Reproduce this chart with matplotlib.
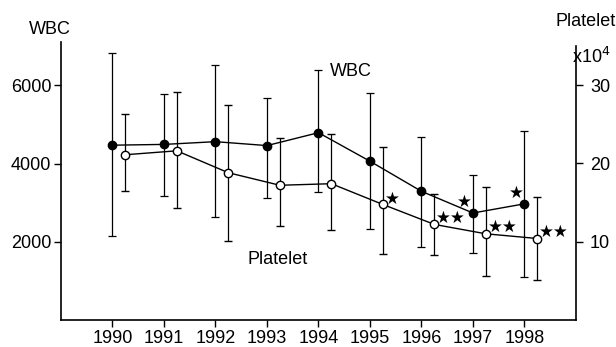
import numpy as np
import matplotlib
matplotlib.use("Agg")
import matplotlib.pyplot as plt

plt.rcParams.update({
    "font.family": ["Liberation Sans", "DejaVu Sans"],
    "font.size": 13,
})

years = np.array([1990, 1991, 1992, 1993, 1994, 1995, 1996, 1997, 1998])

# WBC (left axis)
wbc = np.array([4470, 4490, 4560, 4460, 4790, 4060, 3290, 2735, 2970])
wbc_hi = np.array([6830, 5770, 6520, 5680, 6390, 5810, 4675, 3720, 4845])
wbc_lo = np.array([2135, 3170, 2630, 3110, 3265, 2325, 1865, 1710, 1095])

# Platelet (right axis, x10^4)
plt_val = np.array([21.1, 21.6, 18.8, 17.2, 17.4, 14.75, 12.2, 11.0, 10.4])
plt_hi = np.array([26.3, 29.1, 27.4, 23.2, 23.8, 22.05, 16.1, 17.0, 15.7])
plt_lo = np.array([16.5, 14.3, 10.1, 12.0, 11.5, 8.4, 8.3, 5.55, 5.1])
plt_offset = 0.25

# significance marks by year index
wbc_stars = {7: "★", 8: "★"}
plt_stars = {5: "★", 6: "★★", 7: "★★", 8: "★★"}

fig = plt.figure(figsize=(6.16, 3.47), dpi=100)
ax = fig.add_axes([0.099, 0.078, 0.836, 0.801])
ax2 = ax.twinx()

ax.set_xlim(1989, 1999)
ax.set_ylim(0, 7110)
ax2.set_ylim(0, 35.5)

ax.errorbar(years, wbc, yerr=[wbc - wbc_lo, wbc_hi - wbc],
            fmt="o-", color="black", ms=6, lw=1, elinewidth=0.9,
            capsize=3, capthick=0.9, zorder=3)

px = years + plt_offset
ax2.errorbar(px, plt_val, yerr=[plt_val - plt_lo, plt_hi - plt_val],
             fmt="o-", color="black", mfc="white", mec="black", mew=1,
             ms=6, lw=1, elinewidth=0.9, capsize=3, capthick=0.9, zorder=3)

for i, s in wbc_stars.items():
    ax.annotate(s, (years[i], wbc[i]), xytext=(-6, 8), textcoords="offset points",
                ha="center", va="center", fontsize=12, family="DejaVu Sans")
for i, s in plt_stars.items():
    off = (7, 4) if len(s) == 1 else (12, 5)
    ax2.annotate(s, (px[i], plt_val[i]), xytext=off,
                 textcoords="offset points", ha="center", va="center",
                 fontsize=12, family="DejaVu Sans")

ax.set_xticks(years)
ax.set_yticks([2000, 4000, 6000])
ax2.set_yticks([10, 20, 30])

for a in (ax, ax2):
    a.spines["top"].set_visible(False)
    for sp in a.spines.values():
        sp.set_linewidth(1.2)
ax.spines["right"].set_visible(False)
ax2.spines["left"].set_visible(False)
ax2.spines["bottom"].set_visible(False)
ax2.spines["right"].set_bounds(0, 35)

ax.tick_params(axis="both", direction="out", length=5, width=1, pad=2)
ax2.tick_params(axis="y", direction="out", length=5, width=1, pad=5)

fig.text(0.081, 0.916, "WBC", ha="center", va="center")
fig.text(0.951, 0.938, "Platelet", ha="center", va="center")
fig.text(0.929, 0.836, "x10$^4$", ha="left", va="center")
fig.text(0.569, 0.795, "WBC", ha="center", va="center")
fig.text(0.451, 0.251, "Platelet", ha="center", va="center")

fig.savefig("out.png", dpi=100)
